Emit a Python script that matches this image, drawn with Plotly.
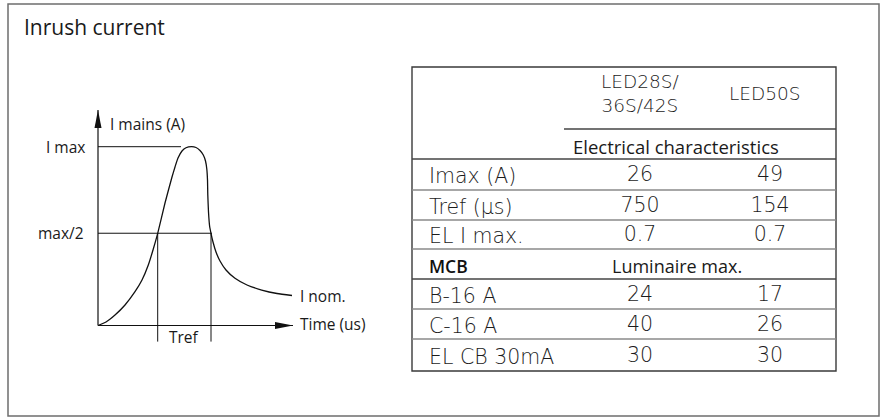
import plotly.graph_objects as go

W, H = 883, 417

# ---------------- schematic inrush-current curve (arbitrary units) ----------------
curve_time = [0, 0.8, 1.7, 2.7, 3.7, 4.4, 5.03, 5.5, 5.97, 6.7, 7.4, 7.7, 8.0, 8.4, 8.8,
              9.35, 9.8, 10.2, 10.53, 10.75, 10.88, 10.95, 10.98, 11.05, 11.16, 11.3,
              11.5, 11.8, 12.2, 12.8, 13.7, 14.9, 16.37, 17.9, 19.4]
curve_current = [0, 0.0196, 0.0587, 0.1147, 0.189, 0.2545, 0.3384, 0.4223, 0.5157,
                 0.6851, 0.8305, 0.8865, 0.9368, 0.976, 0.9939, 1.0, 0.9955, 0.9787,
                 0.9536, 0.92, 0.8753, 0.8138, 0.7299, 0.6348, 0.5565, 0.5157, 0.467,
                 0.4111, 0.3607, 0.3104, 0.264, 0.2265, 0.1985, 0.179, 0.1678]
i_max_level = 1.0
half_level = 0.516
tref_bounds = [5.97, 11.3]
i_nom_level = 0.165
time_axis_end = 19.5
current_axis_end = 1.205
imax_line_end = 8.3
half_line_end = 11.4
tref_line_bottom = -0.09

title_text = "Inrush current"
y_axis_title = "I mains (A)"
x_axis_title = "Time (us)"
imax_label = "I max"
half_label = "max/2"
inom_label = "I nom."
tref_label = "Tref"

# ---------------- table data ----------------
column_headers = ["LED28S/<br>36S/42S", "LED50S"]
section_electrical = "Electrical characteristics"
electrical_labels = ["Imax (A)", "Tref (µs)", "EL I max."]
electrical_led28 = ["26", "750", "0.7"]
electrical_led50 = ["49", "154", "0.7"]
mcb_label = "MCB"
section_mcb = "Luminaire max."
mcb_labels = ["B-16 A", "C-16 A", "EL CB 30mA"]
mcb_led28 = [24, 40, 30]
mcb_led50 = [17, 26, 30]

# ---------------- layout constants (pixels) ----------------
HUMAN = "Open Sans"
GEO = "DejaVu Sans Light, DejaVu Sans"
TXT = "#1a1a1a"
GEO_COL = "#1c1c1c"

ORIG_X, ORIG_Y = 98.0, 325.5
PX_PER_T = 10.0
PX_PER_I = 178.8
x_rng = [-0.5, 20.0]
y_rng = [-0.12, 1.23]
dom_x = [(ORIG_X + x_rng[0] * PX_PER_T) / W, (ORIG_X + x_rng[1] * PX_PER_T) / W]
dom_y = [1 - (ORIG_Y - y_rng[0] * PX_PER_I) / H, 1 - (ORIG_Y - y_rng[1] * PX_PER_I) / H]

TBL_L, TBL_R, TBL_T, TBL_B = 412, 836, 67, 371
row_bounds = [159, 190, 220, 249, 279, 309, 339, 371]
HEADER_RULE_X, HEADER_RULE_Y = 564, 129
LABEL_X, COL1_X, COL2_X = 427, 640, 770
SECTION_X = 677

fig = go.Figure()

fig.add_trace(go.Scatter(x=curve_time, y=curve_current, mode="lines",
                         line=dict(color="#111", width=1.3, shape="spline", smoothing=0.5),
                         hoverinfo="skip", showlegend=False, xaxis="x", yaxis="y"))

shapes = []
annos = []

def dline(x0, y0, x1, y1, w=1.0, color="#111"):
    shapes.append(dict(type="line", xref="x", yref="y", x0=x0, y0=y0, x1=x1, y1=y1,
                       line=dict(color=color, width=w)))

dline(0, 0, 0, current_axis_end, 1.2)
dline(0, 0, time_axis_end, 0, 1.2)
shapes.append(dict(type="path", xref="x", yref="y", xsizemode="pixel", ysizemode="pixel",
                   xanchor=0, yanchor=current_axis_end,
                   path="M0,0 L-3.5,-18 L3.5,-18 Z", fillcolor="#111", line=dict(width=0)))
shapes.append(dict(type="path", xref="x", yref="y", xsizemode="pixel", ysizemode="pixel",
                   xanchor=time_axis_end, yanchor=0,
                   path="M0,0 L-18,3.5 L-18,-3.5 Z", fillcolor="#111", line=dict(width=0)))
dline(0, i_max_level, imax_line_end, i_max_level)
dline(0, half_level, half_line_end, half_level)
for t in tref_bounds:
    dline(t, half_level, t, tref_line_bottom)

def dtext(text, x, y, xanchor, xshift=0, yshift=0, size=15.5):
    annos.append(dict(text=text, x=x, y=y, xref="x", yref="y", xanchor=xanchor,
                      yanchor="middle", xshift=xshift, yshift=yshift, showarrow=False,
                      font=dict(family=HUMAN, size=size, color=TXT)))

dtext(y_axis_title, 0, current_axis_end, "left", xshift=10, yshift=-14)
dtext(imax_label, 0, i_max_level, "right", xshift=-11)
dtext(half_label, 0, half_level, "right", xshift=-12)
dtext(inom_label, time_axis_end, i_nom_level, "left", xshift=5)
dtext(x_axis_title, time_axis_end, 0, "left", xshift=5, yshift=1)
dtext(tref_label, sum(tref_bounds) / 2, tref_line_bottom, "center", yshift=5)

def pline(x0, y0, x1, y1, w=1.0, color="#777"):
    shapes.append(dict(type="line", xref="x2", yref="y2", x0=x0, y0=y0, x1=x1, y1=y1,
                       line=dict(color=color, width=w)))

shapes.append(dict(type="rect", xref="x2", yref="y2", x0=8, y0=4, x1=879, y1=416,
                   line=dict(color="#6e6e6e", width=1.5)))
shapes.append(dict(type="rect", xref="x2", yref="y2", x0=TBL_L, y0=TBL_T, x1=TBL_R, y1=TBL_B,
                   line=dict(color="#3a3a3a", width=1.4)))
pline(HEADER_RULE_X, HEADER_RULE_Y, TBL_R, HEADER_RULE_Y, 1.3, "#444")
for i, yb in enumerate(row_bounds[:-1]):
    pline(TBL_L, yb, TBL_R, yb, 1.3, "#444" if i in (0, 4) else "#8a8a8a")

def ptext(text, x, y, xanchor, family, size, color=TXT, weight=None):
    f = dict(family=family, size=size, color=color)
    if weight:
        f["weight"] = weight
    annos.append(dict(text=text, x=x, y=y, xref="x2", yref="y2", xanchor=xanchor,
                      yanchor="middle", showarrow=False, font=f))

ptext(title_text, 22, 27, "left", HUMAN, 21)

ptext(column_headers[0], COL1_X, 93.5, "center", GEO, 18.5, GEO_COL, 300)
ptext(column_headers[1], 765, 93, "center", GEO, 18.5, GEO_COL, 300)
ptext(section_electrical, SECTION_X - 1, 146, "center", HUMAN, 18.5)

centers = [(row_bounds[i] + row_bounds[i + 1]) / 2 + 1.5 for i in range(len(row_bounds) - 1)]
elec_c = centers[0:3]
mcb_head_c = centers[3]
mcb_c = centers[4:7]

for lab, yc in zip(electrical_labels, elec_c):
    ptext(lab, LABEL_X, yc, "left", GEO, 20.5, GEO_COL, 300)
for lab, yc in zip(mcb_labels, mcb_c):
    ptext(lab, LABEL_X, yc, "left", GEO, 20.5, GEO_COL, 300)
ptext(mcb_label, LABEL_X, mcb_head_c, "left", HUMAN, 17.5, "#111", 600)
ptext(section_mcb, SECTION_X, mcb_head_c, "center", HUMAN, 18)

val_font = dict(family=GEO, size=20.5, color=GEO_COL, weight=300)
for xs, ys, vals in [(COL1_X, elec_c, electrical_led28), (COL2_X, elec_c, electrical_led50),
                     (COL1_X, mcb_c, mcb_led28), (COL2_X, mcb_c, mcb_led50)]:
    fig.add_trace(go.Scatter(x=[xs] * len(vals), y=ys, text=[str(v) for v in vals],
                             mode="text", textposition="middle center", textfont=val_font,
                             xaxis="x2", yaxis="y2", showlegend=False, hoverinfo="skip"))

hidden = dict(visible=False, showgrid=False, zeroline=False, fixedrange=True)
fig.update_layout(
    width=W, height=H, margin=dict(l=0, r=0, t=0, b=0),
    paper_bgcolor="white", plot_bgcolor="rgba(0,0,0,0)",
    xaxis=dict(range=x_rng, domain=dom_x, anchor="y", **hidden),
    yaxis=dict(range=y_rng, domain=dom_y, anchor="x", **hidden),
    xaxis2=dict(range=[0, W], domain=[0, 1], anchor="y2", **hidden),
    yaxis2=dict(range=[H, 0], domain=[0, 1], anchor="x2", **hidden),
    shapes=shapes, annotations=annos, showlegend=False,
)

fig.write_html("out.html", config={"displayModeBar": False},
               post_script="document.body.style.margin='0';document.body.style.overflow='hidden';")
